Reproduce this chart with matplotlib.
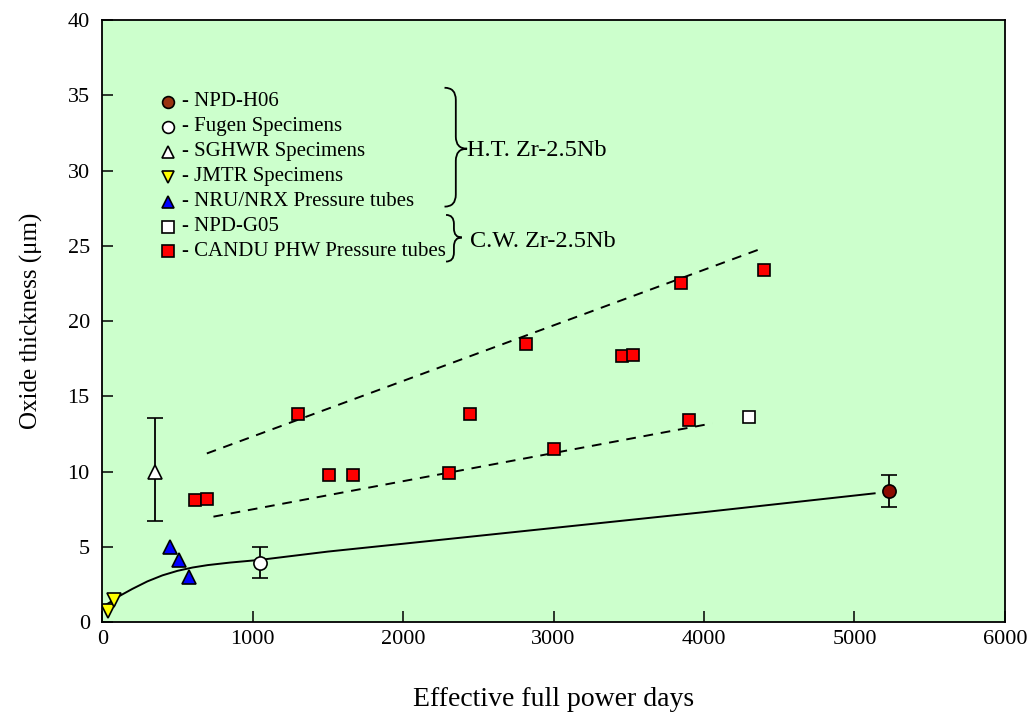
"""
锆合金压力管氧化膜厚度随有效满功率天数变化
"""

import matplotlib
matplotlib.use('Agg')
import matplotlib.pyplot as plt
from matplotlib.path import Path
from matplotlib.patches import PathPatch

matplotlib.rcParams['font.family'] = ['Liberation Serif', 'DejaVu Serif']


# ==================== 1. 数据 ====================

# CANDU PHW 压力管
candu_x = [617, 699, 1304, 1504, 1666, 2302, 2446, 2817, 3001, 3456, 3531, 3850, 3897, 4396]
candu_y = [8.1, 8.2, 13.8, 9.8, 9.8, 9.9, 13.8, 18.5, 11.5, 17.7, 17.75, 22.5, 13.45, 23.4]

# NPD-G05
g05_x = [4296]
g05_y = [13.6]

# NRU/NRX 压力管
nru_x = [450, 511, 574]
nru_y = [5.0, 4.1, 3.0]

# JMTR 试样
jmtr_x = [35, 80]
jmtr_y = [0.75, 1.45]

# SGHWR 试样 (带误差)
sghwr_x = [353]
sghwr_y = [10.0]
sghwr_lo = [6.7]
sghwr_hi = [13.55]

# Fugen 试样 (带误差)
fugen_x = [1047]
fugen_y = [3.95]
fugen_err = [1.05]

# NPD-H06 (带误差)
h06_x = [5232]
h06_y = [8.7]
h06_err = [1.06]

# H.T. 趋势曲线
ht_curve_x = [0, 50, 100, 200, 300, 400, 500, 600, 700, 850, 1050, 1500, 2000, 3000, 4000, 5134]
ht_curve_y = [1.0, 1.3, 1.65, 2.2, 2.7, 3.1, 3.4, 3.62, 3.78, 3.95, 4.13, 4.68, 5.2, 6.25, 7.3, 8.55]

# C.W. 上/下虚线
upper_x = [695, 4405]
upper_y = [11.2, 24.9]
lower_x = [739, 4055]
lower_y = [7.0, 13.2]

legend_labels = ['- NPD-H06', '- Fugen Specimens', '- SGHWR Specimens', '- JMTR Specimens',
                 '- NRU/NRX Pressure tubes', '- NPD-G05', '- CANDU PHW Pressure tubes']

x_ticks = [0, 1000, 2000, 3000, 4000, 5000, 6000]
y_ticks = [0, 5, 10, 15, 20, 25, 30, 35, 40]


# ==================== 2. 工具函数 ====================

def draw_brace(ax, x0, ytop, ybot, ymid, w, r):
    """画一个向右的大括号（数据坐标）"""
    xm = x0 + w / 2
    verts = [(x0, ytop), (xm, ytop), (xm, ytop - r),
             (xm, ymid + r),
             (xm, ymid), (x0 + w, ymid),
             (xm, ymid), (xm, ymid - r),
             (xm, ybot + r),
             (xm, ybot), (x0, ybot)]
    codes = [Path.MOVETO, Path.CURVE3, Path.CURVE3,
             Path.LINETO,
             Path.CURVE3, Path.CURVE3,
             Path.CURVE3, Path.CURVE3,
             Path.LINETO,
             Path.CURVE3, Path.CURVE3]
    ax.add_patch(PathPatch(Path(verts, codes), fc='none', ec='black', lw=1.3, clip_on=False))


# ==================== 3. 绘图 ====================

fig = plt.figure(figsize=(10.31, 7.18), dpi=100)
ax = fig.add_axes([0.0992, 0.1337, 0.8755, 0.8384])
ax.set_facecolor('#CCFFCC')

# 趋势线
ax.plot(ht_curve_x, ht_curve_y, color='black', lw=1.4)
ax.plot(upper_x, upper_y, color='black', lw=1.4, ls=(0, (5, 4)))
ax.plot(lower_x, lower_y, color='black', lw=1.4, ls=(0, (5, 4)))

mk = dict(markeredgecolor='black', markeredgewidth=1.2, linestyle='none')

# 误差棒
ax.errorbar(sghwr_x, sghwr_y,
            yerr=[[sghwr_y[0] - sghwr_lo[0]], [sghwr_hi[0] - sghwr_y[0]]],
            fmt='^', ms=10, mfc='white', ecolor='black', elinewidth=1.3,
            capsize=6, capthick=1.3, **mk)
ax.errorbar(fugen_x, fugen_y, yerr=fugen_err, fmt='o', ms=9.5, mfc='white',
            ecolor='black', elinewidth=1.3, capsize=6, capthick=1.3, **mk)
ax.errorbar(h06_x, h06_y, yerr=h06_err, fmt='o', ms=9.5, mfc='#8B0A00',
            ecolor='black', elinewidth=1.3, capsize=6, capthick=1.3, **mk)

# 散点
ax.plot(nru_x, nru_y, '^', ms=9.5, mfc='#0000FF', **mk)
ax.plot(jmtr_x, jmtr_y, 'v', ms=9.5, mfc='#FFFF00', **mk)
ax.plot(g05_x, g05_y, 's', ms=8.5, mfc='white', **mk)
ax.plot(candu_x, candu_y, 's', ms=8.5, mfc='#FF0000', **mk)

# 手动图例
leg_marker = ['o', 'o', '^', 'v', '^', 's', 's']
leg_color = ['#993311', 'white', 'white', '#FFFF00', '#0000FF', 'white', '#FF0000']
leg_size = [8.5, 8.5, 9, 9, 9, 8, 8]
leg_x = 439
leg_tx = 530
leg_y0 = 34.58
leg_dy = 1.66
for i, lab in enumerate(legend_labels):
    yy = leg_y0 - i * leg_dy
    ax.plot([leg_x], [yy], leg_marker[i], ms=leg_size[i], mfc=leg_color[i], **mk)
    ax.text(leg_tx, yy, lab, fontsize=15, va='center', ha='left')

draw_brace(ax, 2275, 35.5, 27.6, 31.45, 150, 0.8)
draw_brace(ax, 2285, 27.05, 23.95, 25.55, 105, 0.6)
ax.text(2425, 31.3, 'H.T. Zr-2.5Nb', fontsize=17.5, va='center', ha='left')
ax.text(2445, 25.3, 'C.W. Zr-2.5Nb', fontsize=17.5, va='center', ha='left')

# 坐标轴
ax.set_xlim(0, 6000)
ax.set_ylim(0, 40)
ax.set_xticks(x_ticks)
ax.set_yticks(y_ticks)
ax.tick_params(direction='in', length=8, width=1.1, labelsize=16, top=False, right=False)
ax.tick_params(axis='x', pad=6)
ax.tick_params(axis='y', pad=9)
for sp in ax.spines.values():
    sp.set_linewidth(1.3)

ax.set_xlabel('Effective full power days', fontsize=20)
ax.set_ylabel('Oxide thickness (μm)', fontsize=18)
ax.xaxis.set_label_coords(0.5, -0.108)
ax.yaxis.set_label_coords(-0.066, 0.5)

plt.savefig('out.png', dpi=100)
plt.close()
